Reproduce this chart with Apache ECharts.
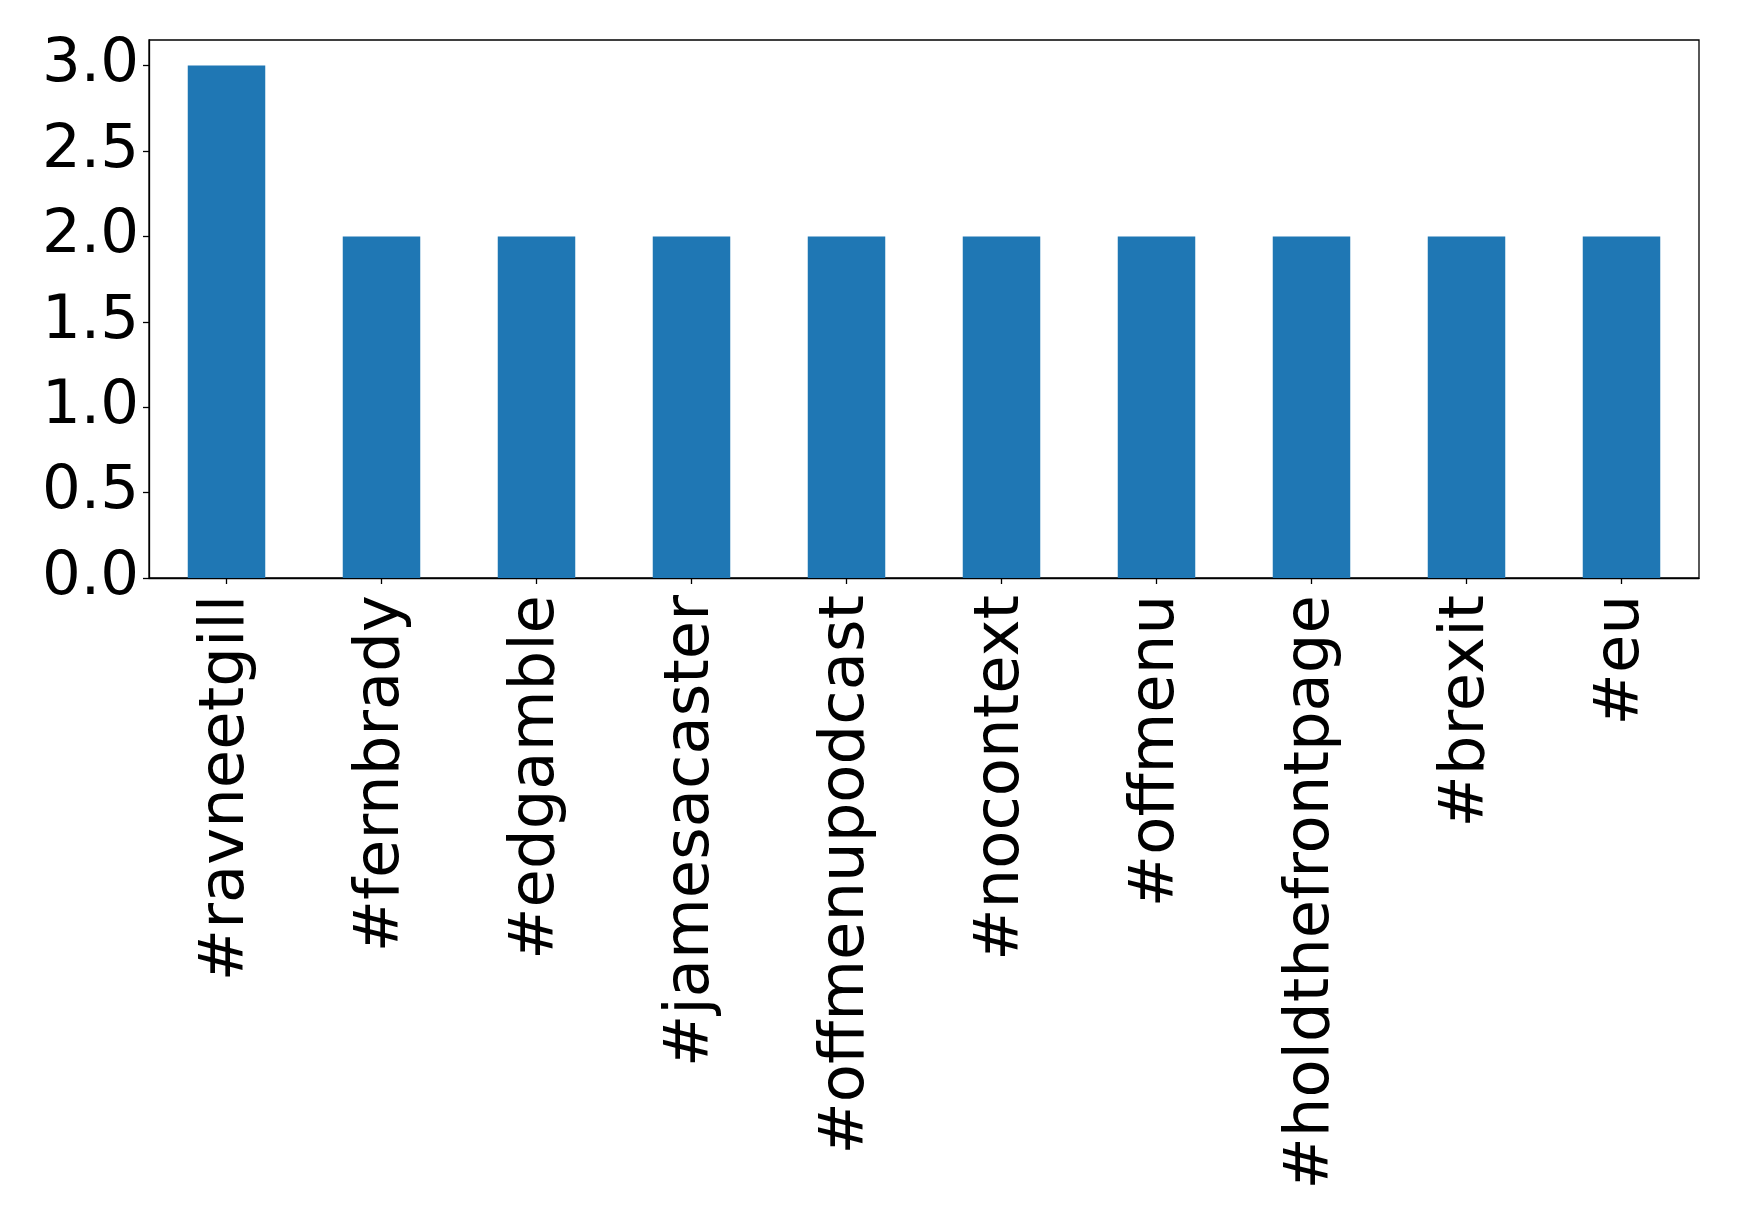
<!DOCTYPE html>
<html>
<head>
<meta charset="utf-8">
<script src="https://cdn.jsdelivr.net/npm/echarts@6/dist/echarts.min.js"></script>
<style>
html,body{margin:0;padding:0;background:#fff;}
#chart{width:1739px;height:1222px;}
</style>
</head>
<body>
<div id="chart"></div>
<script>
const categories = ['#ravneetgill','#fernbrady','#edgamble','#jamesacaster','#offmenupodcast','#nocontext','#offmenu','#holdthefrontpage','#brexit','#eu'];
const counts = [3,2,2,2,2,2,2,2,2,2];
const yTicks = [0,0.5,1.0,1.5,2.0,2.5,3.0];

const chart = echarts.init(document.getElementById('chart'), null, {renderer:'canvas'});
chart.setOption({
  animation:false,
  backgroundColor:'#fff',
  grid:{left:149,right:40,top:40,bottom:644,show:true,borderColor:'#000',borderWidth:1.3,backgroundColor:'transparent'},
  xAxis:{
    type:'category',
    data:categories,
    axisLine:{show:true,lineStyle:{color:'#000',width:1.3}},
    axisTick:{show:true,alignWithLabel:true,length:6,lineStyle:{color:'#000',width:1.3}},
    axisLabel:{rotate:90,interval:0,margin:17,color:'#000',fontFamily:'DejaVu Sans',fontSize:62.5}
  },
  yAxis:{
    type:'value',
    min:0,max:3.15,interval:0.5,
    splitLine:{show:false},
    axisLine:{show:true,lineStyle:{color:'#000',width:1.3}},
    axisTick:{show:true,length:6,lineStyle:{color:'#000',width:1.3},customValues:yTicks},
    axisLabel:{margin:10,color:'#000',fontFamily:'DejaVu Sans',fontSize:61,customValues:yTicks,formatter:v=>v.toFixed(1)}
  },
  series:[{type:'bar',data:counts,barWidth:'50%',itemStyle:{color:'#1f77b4'}}]
});
</script>
</body>
</html>
